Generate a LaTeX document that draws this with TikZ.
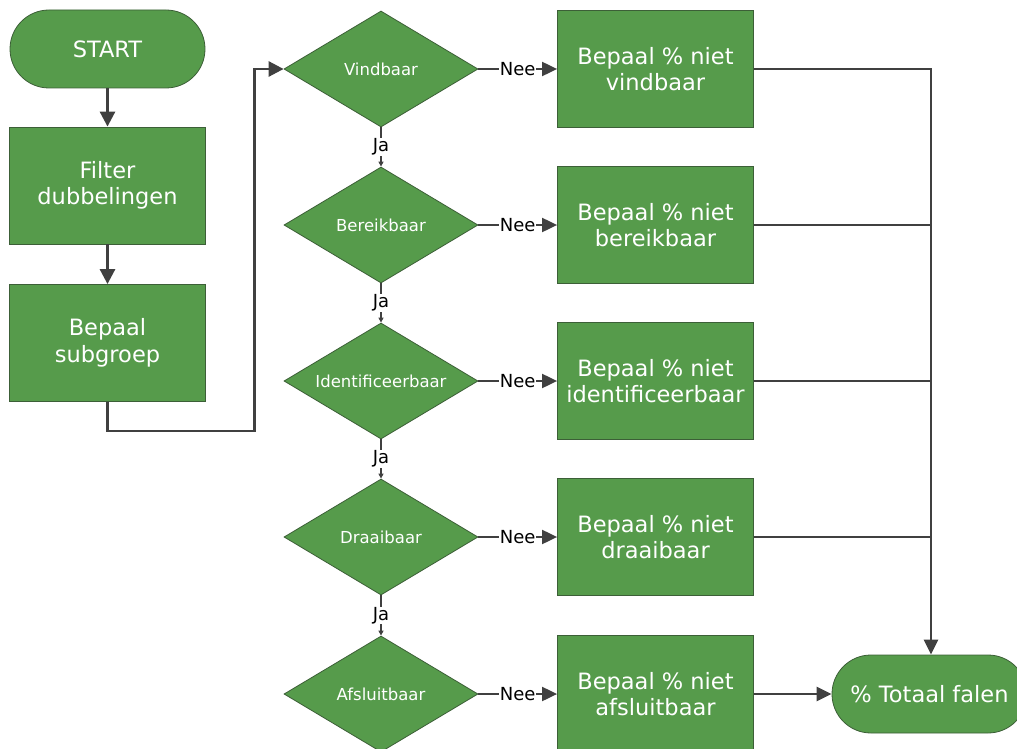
\documentclass[tikz,border=0pt]{standalone}
\usepackage{fontspec}
\setmainfont{DejaVu Sans}
\usetikzlibrary{shapes.geometric,arrows.meta,calc}
\definecolor{boxgreen}{RGB}{86,155,75}
\definecolor{boxedge}{RGB}{60,95,55}
\definecolor{wire}{RGB}{64,64,64}
\newcommand{\dlabel}[1]{\makebox[0pt][c]{#1}}
\tikzset{
  box/.style={draw=boxedge,fill=boxgreen,line width=0.8pt,text=white,align=center,
    font=\fontsize{22.5}{26.5}\selectfont,inner sep=0pt},
  stepbox/.style={box,rectangle,minimum width=196pt,minimum height=117pt},
  terminal/.style={box,rectangle,rounded corners=39pt,minimum width=195pt,minimum height=78pt},
  decision/.style={box,diamond,minimum width=194pt,minimum height=116pt,
    font=\fontsize{16.5}{18}\selectfont},
  mainflow/.style={wire,line width=2.8pt,-{Triangle[length=15pt,width=15pt]}},
  noflow/.style={wire,line width=2pt,-{Triangle[length=15pt,width=14pt]}},
  yesflow/.style={wire,line width=2pt,-{Triangle[length=5pt,width=5pt]}},
  collect/.style={wire,line width=2.5pt},
  tag/.style={fill=white,text=black,inner sep=0.5pt,font=\fontsize{18}{20}\selectfont}
}
\begin{document}
\begin{tikzpicture}[x=1pt,y=-1pt]
\useasboundingbox (0,0) rectangle (1017,749);

% left column
\node[terminal] (start) at (107.5,49) {START};
\node[stepbox] (filter) at (107.5,185.5) {Filter\\dubbelingen};
\node[stepbox] (sub) at (107.5,343) {Bepaal\\subgroep};

% decisions
\node[decision] (d1) at (381,69) {\dlabel{Vindbaar}};
\node[decision] (d2) at (381,225) {\dlabel{Bereikbaar}};
\node[decision] (d3) at (381,381) {\dlabel{Identificeerbaar}};
\node[decision] (d4) at (381,537) {\dlabel{Draaibaar}};
\node[decision] (d5) at (381,694) {\dlabel{Afsluitbaar}};

% failure counts
\node[stepbox] (r1) at (655.5,69) {Bepaal \% niet\\vindbaar};
\node[stepbox] (r2) at (655.5,225) {Bepaal \% niet\\bereikbaar};
\node[stepbox] (r3) at (655.5,381) {Bepaal \% niet\\identificeerbaar};
\node[stepbox] (r4) at (655.5,537) {Bepaal \% niet\\draaibaar};
\node[stepbox] (r5) at (655.5,694) {Bepaal \% niet\\afsluitbaar};

% total
\node[terminal] (total) at (929.5,694) {\% Totaal falen};

% main flow
\draw[mainflow] (start) -- (filter);
\draw[mainflow] (filter) -- (sub);
\coordinate (turnA) at ($(sub.south)+(0,29)$);
\coordinate (turnB) at ($(d1.west)+(-29,0)$);
\draw[mainflow] (sub.south) -- (turnA) -| (turnB) -- (d1.west);

% yes branches
\foreach \a/\b in {d1/d2,d2/d3,d3/d4,d4/d5}
  \draw[yesflow] (\a.south) -- node[tag] {Ja} (\b.north);

% no branches
\foreach \i in {1,...,5}
  \draw[noflow] (d\i.east) -- node[tag] {Nee} (r\i.west);

% collection into total
\coordinate (bus) at ($(total.north)+(1.5,0)$);
\draw[collect,-{Triangle[length=15pt,width=14pt]}] (r1.east) -| (bus);
\foreach \i in {2,3,4}
  \draw[collect] (r\i.east) -- (r\i.east -| bus);
\draw[noflow,line width=2.5pt] (r5.east) -- (total.west);
\end{tikzpicture}
\end{document}
